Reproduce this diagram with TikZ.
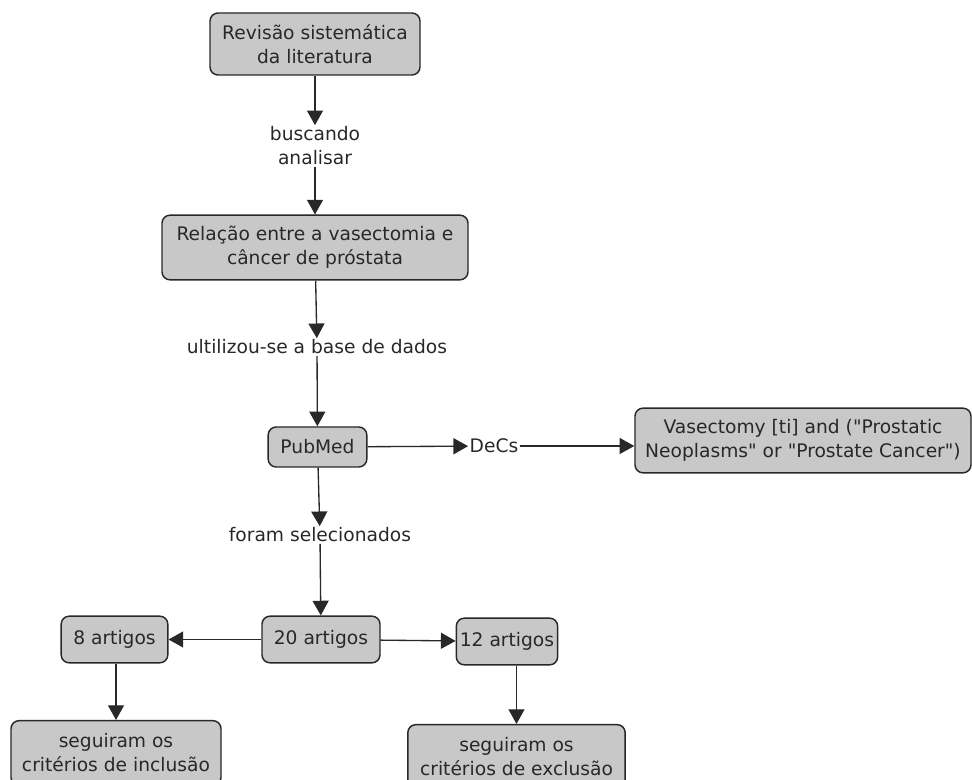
\documentclass[tikz,border=0pt]{standalone}
\usepackage{fontspec}
\setmainfont{DejaVu Sans}[Ligatures=TeXOff]
\usepackage{tikz}
\usetikzlibrary{positioning,arrows.meta}
\definecolor{BoxFill}{RGB}{200,200,200}
\definecolor{LineGray}{RGB}{40,40,40}

\begin{document}
\begin{tikzpicture}[x=0.75pt,y=-0.75pt,
box/.style={rectangle,rounded corners=6pt,draw=LineGray,fill=BoxFill,line width=1.1pt,align=center,font=\fontsize{14}{18}\selectfont,text=LineGray,inner sep=0pt},
lbl/.style={align=center,font=\fontsize{14}{18}\selectfont,text=LineGray,inner sep=1pt},
link/.style={-{Triangle[length=11pt,width=12pt]},line width=1pt,LineGray}
]
\clip (0,0) rectangle (972,780);
% chain down the middle
\node[box,minimum width=157.5pt,minimum height=46.5pt] (rev) at (315,44) {Revisão sistemática\\da literatura};
\node[lbl] (busca) at (315,146) {buscando\\analisar};
\node[box,minimum width=229.5pt,minimum height=48.5pt] (rel) at (315,247.5) {Relação entre a vasectomia e\\câncer de próstata};
\node[lbl] (base) at (317,347) {ultilizou-se a base de dados};
\node[box,minimum width=74pt,minimum height=30pt] (pub) at (317.5,447) {PubMed};
\node[lbl] (decs) at (494,446) {DeCs};
\node[box,minimum width=252pt,minimum height=48.5pt] (vas) at (803,440.5) {Vasectomy [ti] and ("Prostatic\\Neoplasms" or "Prostate Cancer")};
\node[lbl] (sel) at (320,535) {foram selecionados};
% articles
\node[box,minimum width=88.5pt,minimum height=35pt] (a20) at (321,639.5) {20 artigos};
\node[box,minimum width=80pt,minimum height=35pt] (a8) at (114.5,639.5) {8 artigos};
\node[box,minimum width=76pt,minimum height=35pt] (a12) at (507,641.5) {12 artigos};
\node[box,minimum width=157.5pt,minimum height=48.5pt] (inc) at (116,753) {seguiram os\\critérios de inclusão};
\node[box,minimum width=163pt,minimum height=48.5pt] (exc) at (516.5,757) {seguiram os\\critérios de exclusão};

\draw[link] (rev) -- (busca);
\draw[link] (busca) -- (rel);
\draw[link] (rel) -- (base);
\draw[link] (base) -- (pub);
\draw[link] (pub) -- (decs);
\draw[link] (decs) -- (decs -| vas.west);
\draw[link] (pub) -- (sel);
\draw[link] (sel) -- (a20);
\draw[link] (a20) -- (a8);
\draw[link] (a20) -- (a12);
\draw[link] (a8.south -| inc) -- (inc);
\draw[link] (a12.south -| exc) -- (exc);
\end{tikzpicture}
\end{document}
